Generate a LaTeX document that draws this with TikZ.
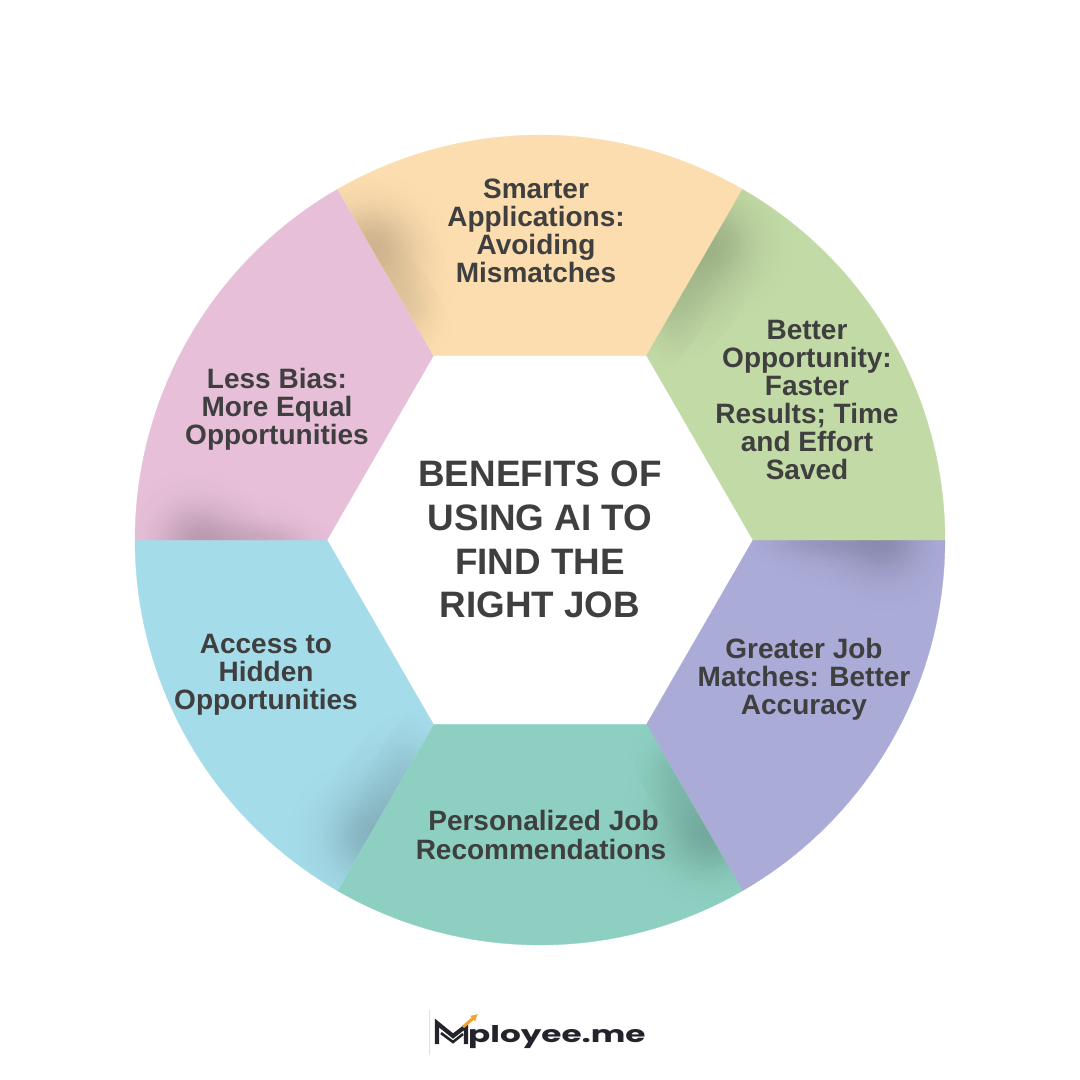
\documentclass[tikz,border=0pt]{standalone}
\usepackage{fontspec}
\setmainfont{Liberation Sans}
\newfontfamily\logofont{Poppins}
\usetikzlibrary{arrows.meta,fadings}
\definecolor{secA}{HTML}{ABABD8}
\definecolor{secB}{HTML}{8DD0C1}
\definecolor{secC}{HTML}{A5DCEA}
\definecolor{secD}{HTML}{E7BFD9}
\definecolor{secE}{HTML}{FCDDAF}
\definecolor{secF}{HTML}{C2DAA5}
\definecolor{ink}{HTML}{3F3F3F}
\definecolor{logoink}{HTML}{23232B}
\definecolor{logoarrow}{HTML}{EDA32F}
\pgfdeclareradialshading{gaussmask}{\pgfpointorigin}{%
  color(0bp)=(white);
  color(3bp)=(white!92!black);
  color(6bp)=(white!72!black);
  color(9bp)=(white!47!black);
  color(12bp)=(white!27!black);
  color(15bp)=(white!13!black);
  color(18bp)=(white!5!black);
  color(21bp)=(white!1!black);
  color(24bp)=(black);
  color(50bp)=(black)}
\pgfdeclarefading{softblob}{\pgfuseshading{gaussmask}}
\tikzset{
  lbl/.style={text=ink,align=center,inner sep=0pt,font=\fontsize{28}{28.1}\selectfont\bfseries},
  ttl/.style={text=ink,align=center,inner sep=0pt,font=\fontsize{36.8}{43.7}\selectfont\bfseries},
  softshadow/.style={fill=black,path fading=softblob}
}
\newcommand\sectorpath[1]{(#1:213) -- plot[domain=#1:\endA,samples=40] (\x:405) -- (\endA:213) -- cycle}
\newcommand\sector[2]{%
  \pgfmathsetmacro\endA{#1+60}
  \fill[#2,draw=#2,line width=.3pt] \sectorpath{#1};
  \begin{scope}
    \clip \sectorpath{#1};
    \begin{scope}[rotate=-#1]
      \path[softshadow,opacity=.15] (345,0) ellipse [x radius=85,y radius=85];
      \path[softshadow,opacity=.09] (305,0) ellipse [x radius=110,y radius=60];
      \path[softshadow,opacity=.07] (265,0) ellipse [x radius=85,y radius=34];
    \end{scope}
  \end{scope}
}
\begin{document}
\begin{tikzpicture}[x=1pt,y=-1pt]
\useasboundingbox (0,0) rectangle (1080,1080);
\fill[white] (0,0) rectangle (1080,1080);
\begin{scope}[shift={(540,540)}]
  \sector{0}{secA}
  \sector{60}{secB}
  \sector{120}{secC}
  \sector{180}{secD}
  \sector{240}{secE}
  \sector{300}{secF}
\end{scope}
\node[ttl] (title) at (540,539.5) {BENEFITS OF\\USING AI TO\\FIND THE\hspace{.27em}\\RIGHT JOB};
\node[lbl] (smart) at (536,231) {Smarter\\Applications:\\Avoiding\\Mismatches};
\node[lbl] (better) at (807,400) {Better\\Opportunity:\\Faster\\Results; Time\\and Effort\\Saved};
\node[lbl] (match) at (804,679) {Greater Job\\Matches: Better\\Accuracy};
\node[lbl] (pers) at (541,835) {\hspace*{5pt}Personalized Job\\Recommendations};
\node[lbl] (access) at (266,675) {Access to\\Hidden\\Opportunities};
\node[lbl] (bias) at (277,409) {Less Bias:\\More Equal\\Opportunities};
% logo
\draw[black!12,line width=.8pt] (429,1010) -- (429,1055);
\draw[logoink,line width=4.2pt,line join=miter] (437,1044) -- (437,1023) -- (453,1036) -- (466,1026) -- (466,1044);
\draw[logoink,line width=2.6pt] (441,1033) -- (453,1042) -- (463,1034);
\draw[logoarrow,line width=3pt,-{Latex[length=7pt,width=8pt]}] (463,1027) -- (478,1014);
\node[anchor=base west,inner sep=0pt,text=logoink] (logo) at (468,1042) {\scalebox{1.42}[1]{\logofont\fontsize{23}{23}\selectfont\bfseries ployee.me}};
\end{tikzpicture}
\end{document}
